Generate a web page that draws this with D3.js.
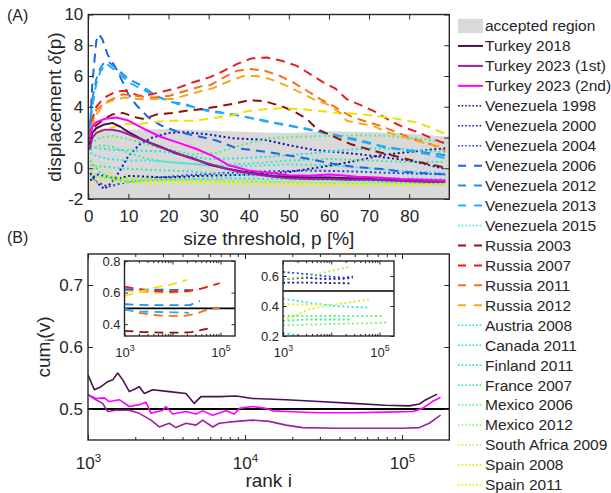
<!DOCTYPE html>
<html><head><meta charset="utf-8">
<script src="https://cdn.jsdelivr.net/npm/d3@7"></script>
<style>
body{margin:0;background:#fff}
svg{display:block}
text{font-family:"Liberation Sans",Arial,sans-serif;fill:#262626}
</style>
</head><body>
<svg id="c" width="611" height="493"></svg>
<script>
// ---------------- DATA ----------------
const legendNames = ["Turkey 2018","Turkey 2023 (1st)","Turkey 2023 (2nd)","Venezuela 1998","Venezuela 2000","Venezuela 2004","Venezuela 2006","Venezuela 2012","Venezuela 2013","Venezuela 2015","Russia 2003","Russia 2007","Russia 2011","Russia 2012","Austria 2008","Canada 2011","Finland 2011","France 2007","Mexico 2006","Mexico 2012","South Africa 2009","Spain 2008","Spain 2011"];
const legendColors = ["#4b1050","#a020a0","#ff00ff","#141478","#1010c0","#2040e8","#1e64e6","#1e90f0","#20b0f8","#30e6f0","#8b1010","#e81e1e","#f57020","#f8a820","#20e0e6","#20e6d6","#30e6c0","#40e8a8","#50f07a","#80f860","#a8f040","#d4f010","#f0f000"];
const legendStyles = ["solid","solid","solid","dot","dot","dot","dash","dash","dash","dot","dash","dash","dash","dash","dot","dot","dot","dot","dot","dot","dot","dot","dot"];

// accepted region (upper bound of grey band), p [%] vs delta
const acceptedTop = [[0,1.6],[1,2.1],[3,2.35],[6,2.45],[10,2.5],[20,2.55],[30,2.45],[40,2.35],[50,2.3],[60,2.4],[70,2.35],[80,2.25],[90,2.05]];
const acceptedBottom = -2.5;

// panel A: displacement delta(p)
const turkey2018A = [[0.3,1.5],[1,2.3],[2,2.6],[4,2.85],[6,2.95],[8,2.7],[10,2.35],[14,1.8],[18,1.4],[22,0.95],[26,0.65],[30,0.25],[34,0.0],[38,-0.2],[42,-0.35],[46,-0.5],[50,-0.55],[55,-0.6],[60,-0.6],[65,-0.65],[70,-0.7],[75,-0.75],[80,-0.8],[85,-0.85],[89,-0.85]];
const turkey2023aA = [[0.3,1.2],[1,2.0],[2,2.3],[4,2.5],[6,2.5],[8,2.4],[10,2.2],[13,1.9],[17,1.45],[21,1.1],[25,0.7],[30,0.3],[34,0.0],[38,-0.25],[42,-0.4],[46,-0.55],[50,-0.65],[55,-0.7],[60,-0.7],[65,-0.75],[70,-0.75],[75,-0.8],[80,-0.85],[85,-0.9],[89,-0.9]];
const turkey2023bA = [[0.3,1.8],[1,2.7],[2,3.0],[4,3.2],[7,3.3],[10,3.1],[14,2.55],[18,2.05],[22,1.7],[27,1.25],[31,0.8],[35,0.2],[40,-0.15],[45,-0.3],[50,-0.45],[55,-0.48],[60,-0.4],[63,-0.45],[67,-0.55],[72,-0.6],[78,-0.7],[84,-0.75],[89,-0.8]];
const ven1998A = [[0.5,-0.8],[2,-0.4],[4,-0.5],[7,-0.7],[10,-0.5],[15,-0.55],[20,-0.6],[28,-0.5],[35,-0.45],[42,-0.4],[50,-0.25],[56,0.0],[62,0.25],[68,0.55],[73,0.85],[78,1.0],[83,1.15],[89,1.3]];
const ven2000A = [[0.5,-0.3],[2,-0.9],[4,-1.35],[6,-0.9],[8,-0.1],[10,0.8],[13,1.6],[16,2.0],[20,2.3],[24,2.35],[30,2.2],[36,1.95],[44,1.85],[50,1.5],[56,1.2],[62,1.05],[68,0.9],[74,0.7],[80,0.5],[85,0.2],[89,-0.05]];
const ven2004A = [[0.5,-0.4],[2,-0.9],[5,-1.2],[8,-1.0],[12,-0.8],[18,-0.6],[25,-0.45],[35,-0.3],[45,-0.2],[55,-0.15],[65,-0.2],[75,-0.3],[89,-0.4]];
const ven2006A = [[0.3,2.0],[1,5.5],[2,8.3],[2.7,8.7],[3.5,8.4],[4.8,7.4],[6.7,6.6],[8.6,5.6],[10,4.8],[12,4.1],[15,3.3],[18,2.8],[22,2.4],[27,2.1],[32,1.8],[37,1.3],[45,1.05],[53,0.7],[61,0.3],[66,0.1],[73,-0.05],[79,-0.25],[89,-0.4]];
const ven2012A = [[0.3,2.5],[1,4.5],[2,5.8],[3,6.5],[4,6.9],[5,6.95],[6,6.7],[7.7,6.35],[10,5.8],[12.7,5.45],[15,5.05],[17.7,4.6],[21,4.3],[24.4,4.15],[27,3.9],[30.4,3.75],[37.8,3.42],[45,3.0],[52,2.66],[58,2.34],[61,2.2],[68,1.8],[73.6,1.4],[80,1.15],[89,0.85]];
const ven2013A = [[0.3,2.2],[1,4.0],[2,5.5],[3,6.3],[4.5,6.8],[6,6.5],[8,6.1],[10,5.6],[13,5.2],[16,4.8],[19,4.5],[22,4.2],[26,4.0],[30,3.7],[36,3.5],[42,3.2],[48,2.9],[54,2.6],[60,2.25],[66,1.85],[72,1.5],[78,1.2],[84,0.95],[89,0.65]];
const ven2015A = [[0.5,1.0],[2,0.8],[5,0.6],[10,0.5],[15,0.5],[20,0.4],[25,0.3],[32,0.15],[40,0.15],[50,0.25],[60,0.2],[70,0.0],[80,-0.2],[89,-0.3]];
const rus2003A = [[0.3,1.8],[1,2.5],[2,2.8],[4,3.2],[6,3.5],[8.6,3.6],[12,3.3],[14,3.2],[17,3.5],[21,3.6],[24.4,3.74],[28.5,3.85],[32,4.0],[36,4.18],[40.3,4.43],[44,4.35],[47.8,4.07],[51,3.74],[54.5,3.2],[57,2.55],[60,2.2],[65.3,1.58],[71,1.14],[77.7,0.71],[82.7,0.39],[89,0.05]];
const rus2007A = [[0.3,2.0],[1,3.2],[2,4.0],[4,4.6],[5.7,4.82],[7,5.0],[9.4,5.04],[12.7,4.71],[16,4.82],[19.4,5.04],[22.7,5.26],[26,5.58],[30.2,5.91],[33.5,6.3],[37,6.77],[40.7,7.15],[44.5,7.2],[48.2,6.99],[52,6.66],[55.3,6.12],[58.6,5.58],[61.5,5.2],[64.4,4.5],[68.2,4.07],[71.9,3.63],[75.2,3.09],[78.6,2.66],[82.3,2.34],[86,1.9],[89,1.6]];
const rus2011A = [[0.3,1.8],[1,3.0],[2,3.8],[4.4,4.3],[6,4.5],[8.6,4.82],[12,4.7],[16,4.6],[20.2,4.71],[24.4,5.04],[28.5,5.36],[30.4,5.4],[33.7,5.9],[37,6.34],[40.7,6.45],[44,6.34],[47.8,6.0],[51.1,5.58],[54.5,5.04],[57.8,4.5],[61.1,4.05],[65.3,3.4],[68.6,3.09],[72.7,2.77],[76.9,2.34],[81,1.9],[85.2,1.58],[89,1.15]];
const rus2012A = [[0.3,1.6],[1,2.8],[2,3.5],[4,4.2],[6,4.4],[9,4.6],[12,4.5],[16,4.5],[21,4.5],[26.9,4.93],[31,5.2],[35.3,5.69],[38.7,6.0],[42,6.0],[45.3,5.8],[49.5,5.36],[52.8,4.93],[56.1,4.5],[59.4,4.18],[62.3,3.7],[64.4,3.09],[68,2.9],[71,2.77],[74.4,2.34],[78,2.1],[81.8,1.79],[85,1.55],[89,1.36]];
const austria2008A = [[0.5,0.5],[3,-0.3],[6,-0.7],[10,-0.9],[15,-0.8],[25,-0.7],[35,-0.65],[45,-0.7],[55,-0.75],[65,-0.8],[75,-0.9],[89,-1.0]];
const canada2011A = [[0.5,1.4],[3,1.3],[6,1.2],[12,1.15],[18,1.1],[24,0.85],[30,0.6],[38,0.65],[45,0.75],[55,0.95],[62,1.15],[70,1.3],[78,1.25],[89,1.05]];
const finland2011A = [[0.5,0.2],[4,0.1],[8,0.0],[15,-0.1],[25,-0.2],[35,-0.4],[45,-0.5],[55,-0.55],[65,-0.6],[75,-0.65],[89,-0.7]];
const france2007A = [[0.5,1.2],[3,1.5],[6,1.4],[10,1.0],[15,0.6],[20,0.4],[30,0.2],[40,0.3],[50,0.5],[60,0.6],[70,0.5],[80,0.4],[89,0.4]];
const mexico2006A = [[0.5,1.6],[3,2.0],[6,2.1],[10,1.9],[14,1.6],[20,1.2],[26,0.9],[32,1.0],[38,1.5],[45,1.95],[52,2.05],[60,2.1],[68,2.15],[75,2.1],[82,1.95],[89,1.7]];
const mexico2012A = [[0.5,-0.5],[3,-0.6],[8,-0.7],[15,-0.75],[25,-0.8],[35,-0.85],[45,-0.9],[55,-0.95],[65,-1.0],[75,-1.05],[89,-1.0]];
const southAfrica2009A = [[0.5,-0.2],[3,-0.5],[8,-0.65],[15,-0.7],[25,-0.75],[35,-0.8],[50,-0.9],[65,-0.95],[80,-1.0],[89,-0.95]];
const spain2008A = [[0.5,0.4],[2,0.2],[5,-0.4],[10,-0.8],[20,-0.85],[30,-0.9],[40,-1.0],[55,-1.05],[70,-1.1],[89,-1.1]];
const spain2011A = [[0.5,-1.0],[3,-0.8],[8,-0.9],[15,-1.0],[25,-0.95],[35,-1.0],[50,-1.05],[65,-1.1],[80,-1.05],[89,-1.0]];
// dashed yellow curve drawn in the figure but absent from the legend
const extraDashedA = [[0.3,1.5],[1,2.2],[2.7,2.44],[5,2.6],[7.7,2.77],[10,2.9],[12.7,2.88],[16,3.0],[20.2,3.09],[26,3.09],[29.4,3.2],[35.3,3.42],[40.3,3.74],[44.5,3.85],[48.6,3.9],[52.8,3.85],[57,3.74],[61.1,3.63],[67.8,3.52],[74.8,3.31],[81.9,2.99],[85.2,2.66],[89,2.23]];
const extraDashedColor = "#f0e000";

// panel B: cum_i(v) vs rank i (Turkey)
const turkey2018B = [[1000,0.555],[1097,0.531],[1210,0.536],[1335,0.544],[1437,0.547],[1546,0.558],[1664,0.547],[1833,0.528],[2020,0.533],[2122,0.536],[2284,0.525],[2583,0.531],[3294,0.528],[4208,0.525],[4749,0.509],[5241,0.52],[6851,0.52],[8768,0.521],[11170,0.517],[18230,0.515],[29660,0.512],[48330,0.509],[78650,0.506],[111000,0.505],[128900,0.508],[142000,0.515],[167000,0.524]];
const turkey2023aB = [[1000,0.523],[1124,0.515],[1240,0.509],[1335,0.496],[1508,0.498],[1833,0.498],[2122,0.493],[2520,0.482],[2844,0.471],[3294,0.477],[3630,0.47],[4208,0.477],[4880,0.474],[5370,0.482],[6220,0.471],[6850,0.477],[8770,0.48],[11170,0.482],[14270,0.48],[18230,0.474],[23300,0.47],[38000,0.469],[61800,0.469],[100500,0.469],[128900,0.47],[149000,0.477],[176000,0.49]];
const turkey2023bB = [[1000,0.523],[1124,0.517],[1270,0.518],[1367,0.512],[1582,0.515],[1833,0.504],[2122,0.507],[2338,0.511],[2520,0.493],[2990,0.498],[3135,0.504],[3460,0.492],[4208,0.496],[4880,0.492],[5370,0.497],[6220,0.49],[7570,0.497],[8560,0.492],[9210,0.501],[11170,0.504],[13600,0.501],[15000,0.497],[18230,0.496],[29660,0.494],[48330,0.494],[78650,0.495],[117000,0.496],[135000,0.501],[156000,0.512],[176000,0.519]];
const referenceLevel = 0.5;

// inset 1 (dashed series)
const ven2006I = [[1000,0.621],[1500,0.62],[3000,0.618],[6000,0.618],[12000,0.617],[23000,0.616]];
const ven2012I = [[1000,0.526],[2000,0.522],[5000,0.52],[10000,0.52],[23000,0.521],[37000,0.547]];
const ven2013I = [[1000,0.49],[2000,0.48],[5000,0.477],[10000,0.475],[22000,0.472]];
const rus2003I = [[1000,0.357],[2500,0.35],[6000,0.346],[15000,0.346],[25000,0.35],[54000,0.371]];
const rus2007I = [[1000,0.638],[1500,0.628],[3000,0.615],[8000,0.605],[20000,0.61],[40000,0.625],[60000,0.64],[96000,0.66]];
const rus2011I = [[1000,0.498],[2000,0.472],[4000,0.458],[8000,0.452],[18000,0.452],[30000,0.465],[48000,0.487],[70000,0.498],[96000,0.5]];
const rus2012I = [[1000,0.615],[2000,0.607],[5000,0.6],[15000,0.6],[30000,0.615],[50000,0.635],[70000,0.648]];
const extraDashedI = [[1000,0.578],[2000,0.605],[4300,0.631],[9600,0.652],[19700,0.68]];
// inset 2 (dotted series)
const ven1998I = [[1000,0.555],[3000,0.556],[10000,0.553],[24000,0.551]];
const ven2000I = [[1000,0.578],[3000,0.589],[7000,0.58],[20000,0.582],[28000,0.59]];
const ven2004I = [[1000,0.627],[3500,0.611],[8000,0.598],[18000,0.589],[28000,0.597]];
const ven2015I = [[1000,0.449],[3500,0.422],[12000,0.4],[61000,0.389]];
const austria2008I = [[1000,0.22],[2300,0.2]];
const france2007I = [[1000,0.3],[3000,0.31],[10000,0.31],[25000,0.31]];
const mexico2006I = [[1000,0.333],[10000,0.335],[126000,0.333]];
const mexico2012I = [[1000,0.271],[10000,0.28],[60000,0.285],[150000,0.29]];
const southAfrica2009I = [[1000,0.578],[3500,0.6],[8000,0.627],[20000,0.656],[24000,0.66]];
const spain2008I = [[1000,0.3],[3500,0.378],[8000,0.404],[20000,0.42],[60000,0.444]];
const spain2011I = [[1000,0.412],[2500,0.41],[6000,0.41]];

// tick values
const ticksAx = [0,10,20,30,40,50,60,70,80];
const ticksAy = [-2,0,2,4,6,8,10];
const ticksBy = [0.5,0.6,0.7];
const ticksLogMajor = [1e3,1e4,1e5];
const labelsLogMain = [1e3,1e4,1e5];
const labelsLogInset = [1e3,1e5];
const ticksI1y = [0.4,0.6,0.8];
const ticksI2y = [0.2,0.4,0.6];

// ---------------- DRAWING ----------------
const svg = d3.select("#c");
const FONT = '"Liberation Sans",Arial,sans-serif';
const AX = "#262626";

const dispA = [turkey2018A,turkey2023aA,turkey2023bA,ven1998A,ven2000A,ven2004A,ven2006A,ven2012A,ven2013A,ven2015A,rus2003A,rus2007A,rus2011A,rus2012A,austria2008A,canada2011A,finland2011A,france2007A,mexico2006A,mexico2012A,southAfrica2009A,spain2008A,spain2011A];

const xA = d3.scaleLinear().domain([0,90]).range([88.3,449.3]);
const yA = d3.scaleLinear().domain([-2,10]).range([199,14.5]);
const xB = d3.scaleLog().domain([1e3,2e5]).range([88,449.3]);
const yB = d3.scaleLinear().domain([0.45,0.75]).range([440,254]);
const xI1 = d3.scaleLog().domain([1e3,2e5]).range([124.5,235]);
const yI1 = d3.scaleLinear().domain([0.325,0.8]).range([336,261]);
const xI2 = d3.scaleLog().domain([1e3,2e5]).range([283,394]);
const yI2 = d3.scaleLinear().domain([0.2,0.7]).range([336,261]);

const minorLog = [];
[1e3,1e4,1e5].forEach(d=>{for(let k=2;k<=9;k++){const v=d*k; if(v<2e5) minorLog.push(v);}});

const dashOf = s => s==="dash" ? "9,6" : s==="dot" ? "2,2.6" : null;

function clip(id,x,y){
  svg.append("clipPath").attr("id",id).append("rect")
    .attr("x",x.range()[0]).attr("y",y.range()[1])
    .attr("width",x.range()[1]-x.range()[0]).attr("height",y.range()[0]-y.range()[1]);
}
function drawLine(g,data,x,y,color,style,w){
  const ln = d3.line().x(d=>x(d[0])).y(d=>y(d[1]));
  g.append("path").attr("d",ln(data)).attr("fill","none")
   .attr("stroke",color).attr("stroke-width",w)
   .attr("stroke-dasharray",dashOf(style)).attr("stroke-linejoin","round");
}
function frame(x,y,fill){
  svg.append("rect").attr("x",x.range()[0]).attr("y",y.range()[1])
    .attr("width",x.range()[1]-x.range()[0]).attr("height",y.range()[0]-y.range()[1])
    .attr("fill",fill||"none").attr("stroke",AX).attr("stroke-width",1.4);
}
function styleAxis(g,fs){
  g.select(".domain").remove();
  g.selectAll("line").attr("stroke",AX).attr("stroke-width",1);
  g.selectAll("text").attr("font-family",FONT).attr("font-size",fs).attr("fill",AX);
}
function axes(x,y,xt,yt,fs,logLabels,minor,tk,lblPad,xLblY){
  const x0=x.range()[0],x1=x.range()[1],y0=y.range()[1],y1=y.range()[0];
  const gb = svg.append("g").attr("transform",`translate(0,${y1})`)
    .call(d3.axisBottom(x).tickValues(xt).tickSize(-tk).tickFormat(logLabels?"":d3.format("d")));
  styleAxis(gb,fs);
  gb.selectAll("text").attr("y",xLblY-y1).attr("dy",null);
  if(logLabels){
    gb.selectAll(".tick text").each(function(d){
      if(!logLabels.includes(d)) return;
      const t=d3.select(this);
      t.append("tspan").text("10");
      t.append("tspan").text(Math.round(Math.log10(d))).attr("font-size",fs*0.68).attr("dy",-fs*0.42);
    });
  }
  const gt = svg.append("g").attr("transform",`translate(0,${y0})`)
    .call(d3.axisTop(x).tickValues(xt).tickSize(-tk).tickFormat(""));
  styleAxis(gt,fs);
  if(minor){
    [[d3.axisBottom,y1],[d3.axisTop,y0]].forEach(([a,p])=>{
      const gm = svg.append("g").attr("transform",`translate(0,${p})`)
        .call(a(x).tickValues(minor).tickSize(-tk*0.6).tickFormat(""));
      styleAxis(gm,fs);
    });
  }
  const gl = svg.append("g").attr("transform",`translate(${x0},0)`)
    .call(d3.axisLeft(y).tickValues(yt).tickSize(-tk).tickPadding(lblPad).tickFormat(d=>String(d)));
  styleAxis(gl,fs);
  const gr = svg.append("g").attr("transform",`translate(${x1},0)`)
    .call(d3.axisRight(y).tickValues(yt).tickSize(-tk).tickFormat(""));
  styleAxis(gr,fs);
}

// ===== Panel A =====
clip("cA",xA,yA);
const gA = svg.append("g").attr("clip-path","url(#cA)");
const area = d3.area().x(d=>xA(d[0])).y0(yA(acceptedBottom)).y1(d=>yA(d[1]));
gA.append("path").attr("d",area(acceptedTop)).attr("fill","#d9d9d9");
const orderA = [];
legendStyles.forEach((s,i)=>{ if(s==="dot") orderA.push(i); });
legendStyles.forEach((s,i)=>{ if(s==="dash") orderA.push(i); });
orderA.forEach(i=>{
  if(i===13) drawLine(gA,extraDashedA,xA,yA,extraDashedColor,"dash",2);
  drawLine(gA,dispA[i],xA,yA,legendColors[i],legendStyles[i],2);
});
[0,1,2].forEach(i=>drawLine(gA,dispA[i],xA,yA,legendColors[i],"solid",2));
frame(xA,yA);
axes(xA,yA,ticksAx,ticksAy,17,null,null,5,5,221.5);

// ===== Panel B =====
clip("cB",xB,yB);
const gB = svg.append("g").attr("clip-path","url(#cB)");
gB.append("line").attr("x1",xB.range()[0]).attr("x2",xB.range()[1])
  .attr("y1",yB(referenceLevel)).attr("y2",yB(referenceLevel)).attr("stroke","#000").attr("stroke-width",2);
const turkeyB=[turkey2018B,turkey2023aB,turkey2023bB];
turkeyB.forEach((d,i)=>drawLine(gB,d,xB,yB,legendColors[i],"solid",1.6));
frame(xB,yB);
axes(xB,yB,ticksLogMajor,ticksBy,17,labelsLogMain,minorLog,5,5,469);

// ===== Insets =====
function inset(id,x,y,series,yt){
  svg.append("rect").attr("x",x.range()[0]).attr("y",y.range()[1])
    .attr("width",x.range()[1]-x.range()[0]).attr("height",y.range()[0]-y.range()[1]).attr("fill","#fff");
  clip(id,x,y);
  const g = svg.append("g").attr("clip-path",`url(#${id})`);
  g.append("line").attr("x1",x.range()[0]).attr("x2",x.range()[1])
    .attr("y1",y(referenceLevel)).attr("y2",y(referenceLevel)).attr("stroke","#000").attr("stroke-width",1.6);
  series.forEach(s=>drawLine(g,s[0],x,y,s[1],s[2],1.8));
  frame(x,y);
  axes(x,y,ticksLogMajor,yt,13,labelsLogInset,minorLog,3.5,4,356.5);
}
inset("cI1",xI1,yI1,[
  [rus2003I,legendColors[10],"dash"],
  [rus2011I,legendColors[12],"dash"],
  [ven2013I,legendColors[8],"dash"],
  [ven2012I,legendColors[7],"dash"],
  [rus2012I,legendColors[13],"dash"],
  [ven2006I,legendColors[6],"dash"],
  [rus2007I,legendColors[11],"dash"],
  [extraDashedI,extraDashedColor,"dash"]
],ticksI1y);
inset("cI2",xI2,yI2,[
  [ven1998I,legendColors[3],"dot"],
  [ven2000I,legendColors[4],"dot"],
  [ven2004I,legendColors[5],"dot"],
  [southAfrica2009I,legendColors[20],"dot"],
  [ven2015I,legendColors[9],"dot"],
  [austria2008I,legendColors[14],"dot"],
  [spain2011I,legendColors[22],"dot"],
  [spain2008I,legendColors[21],"dot"],
  [mexico2006I,legendColors[18],"dot"],
  [france2007I,legendColors[17],"dot"],
  [mexico2012I,legendColors[19],"dot"]
],ticksI2y);

// ===== Labels =====
svg.append("text").attr("x",7).attr("y",21).attr("font-size",16).text("(A)");
svg.append("text").attr("x",7).attr("y",243).attr("font-size",16).text("(B)");
const ylA = svg.append("text").attr("transform","translate(61,107) rotate(-90)")
  .attr("text-anchor","middle").attr("font-size",19);
ylA.append("tspan").text("displacement ");
ylA.append("tspan").text("δ").attr("font-family","Liberation Serif, serif").attr("font-style","italic");
ylA.append("tspan").text("(p)");
svg.append("text").attr("x",(xA.range()[0]+xA.range()[1])/2).attr("y",245)
  .attr("text-anchor","middle").attr("font-size",19).text("size threshold, p [%]");
const ylB = svg.append("text").attr("transform","translate(50,347) rotate(-90)")
  .attr("text-anchor","middle").attr("font-size",19);
ylB.append("tspan").text("cum");
ylB.append("tspan").text("i").attr("font-size",13).attr("dy",4);
ylB.append("tspan").text("(v)").attr("dy",-4);
svg.append("text").attr("x",(xB.range()[0]+xB.range()[1])/2).attr("y",487)
  .attr("text-anchor","middle").attr("font-size",19).text("rank i");

// ===== Legend =====
const lg = svg.append("g");
const ly = k => 26 + 19.95*k;
lg.append("rect").attr("x",458).attr("y",ly(0)-7.2).attr("width",25).attr("height",14.4).attr("fill","#d9d9d9");
lg.append("text").attr("x",485).attr("y",ly(0)).attr("dy","0.35em").attr("font-size",15.5).text("accepted region");
legendNames.forEach((n,i)=>{
  const y = ly(i+1);
  const st = legendStyles[i];
  lg.append("line").attr("x1",458).attr("x2",483).attr("y1",y).attr("y2",y)
    .attr("stroke",legendColors[i]).attr("stroke-width",st==="dot"?1.6:2)
    .attr("stroke-dasharray",st==="dash"?"8,8":st==="dot"?"1.6,2":null);
  lg.append("text").attr("x",485).attr("y",y).attr("dy","0.35em").attr("font-size",15.5).text(n);
});
</script>
</body></html>
